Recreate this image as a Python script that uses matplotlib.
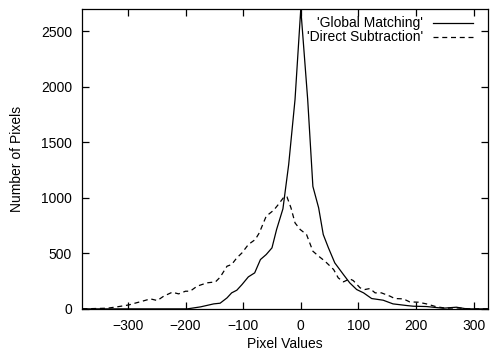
import matplotlib
matplotlib.use("Agg")
import matplotlib.pyplot as plt

# Global Matching curve (pixel value, count)
gm_x = [-380, -197, -174, -151, -140, -128, -120, -111, -102, -91, -80, -70,
        -60, -50, -42, -31, -21, -10, 0, 12, 21, 31, 39, 48, 59, 74, 85, 97,
        109, 123, 143, 160, 184, 195, 218, 247, 270, 288, 325]
gm_y = [0, 0, 18, 45, 51, 99, 144, 168, 219, 288, 324, 444,
        489, 549, 714, 900, 1299, 1883, 2700, 1883, 1102, 909, 669, 549, 414, 309, 234, 174,
        144, 93, 78, 45, 30, 24, 21, 6, 15, 0, 0]

# Direct Subtraction curve
ds_x = [-379, -336, -319, -298, -290, -275, -261, -249, -238, -223, -212, -200,
        -192, -180, -163, -148, -140, -128, -120, -111, -102, -91, -79, -72,
        -60, -47, -39, -29, -24, -17, -10, -1, 10, 21, 31, 42, 57, 65, 74,
        85, 91, 103, 111, 120, 129, 140, 155, 163, 178, 189, 204, 218, 236,
        253, 270, 293, 325]
ds_y = [0, 6, 18, 36, 48, 69, 90, 75, 114, 150, 135, 159,
        159, 204, 234, 243, 285, 384, 399, 459, 504, 579, 624, 684,
        834, 888, 939, 1008, 1008, 909, 774, 714, 669, 519, 474, 429, 354, 279, 243,
        270, 255, 189, 174, 183, 144, 144, 114, 93, 90, 63, 60, 45, 18,
        6, 9, 0, 0]

x_ticks = [-300, -200, -100, 0, 100, 200, 300]
y_ticks = [0, 500, 1000, 1500, 2000, 2500]

plt.rcParams['font.family'] = ['Liberation Sans', 'DejaVu Sans']
plt.rcParams['font.size'] = 10

fig = plt.figure(figsize=(4.9, 3.53), dpi=100)
ax = fig.add_axes([0.167, 0.125, 0.829, 0.85])

ax.plot(gm_x, gm_y, color="black", linewidth=0.9)
ax.plot(ds_x, ds_y, color="black", linewidth=0.9, linestyle=(0, (4, 3)))

ax.set_xlim(-380, 325)
ax.set_ylim(0, 2700)
ax.set_xticks(x_ticks)
ax.set_yticks(y_ticks)
ax.tick_params(direction="in", top=True, right=True, length=5, width=0.9,
               pad=7, labelsize=10)
for s in ax.spines.values():
    s.set_linewidth(0.9)

ax.set_xlabel("Pixel Values", fontsize=10, labelpad=3)
ax.set_ylabel("Number of Pixels", fontsize=10, labelpad=12)

# gnuplot-style key, text right aligned with line sample on the right
labels = ["'Global Matching'", "'Direct Subtraction'"]
styles = ["-", (0, (4, 3))]
rows = [0.953, 0.907]
for lab, ls, yy in zip(labels, styles, rows):
    ax.text(0.840, yy, lab, transform=ax.transAxes, ha="right", va="center",
            fontsize=10)
    ax.plot([0.865, 0.963], [yy, yy], transform=ax.transAxes, color="black",
            linewidth=0.9, linestyle=ls)

fig.savefig("out.png", dpi=100)
